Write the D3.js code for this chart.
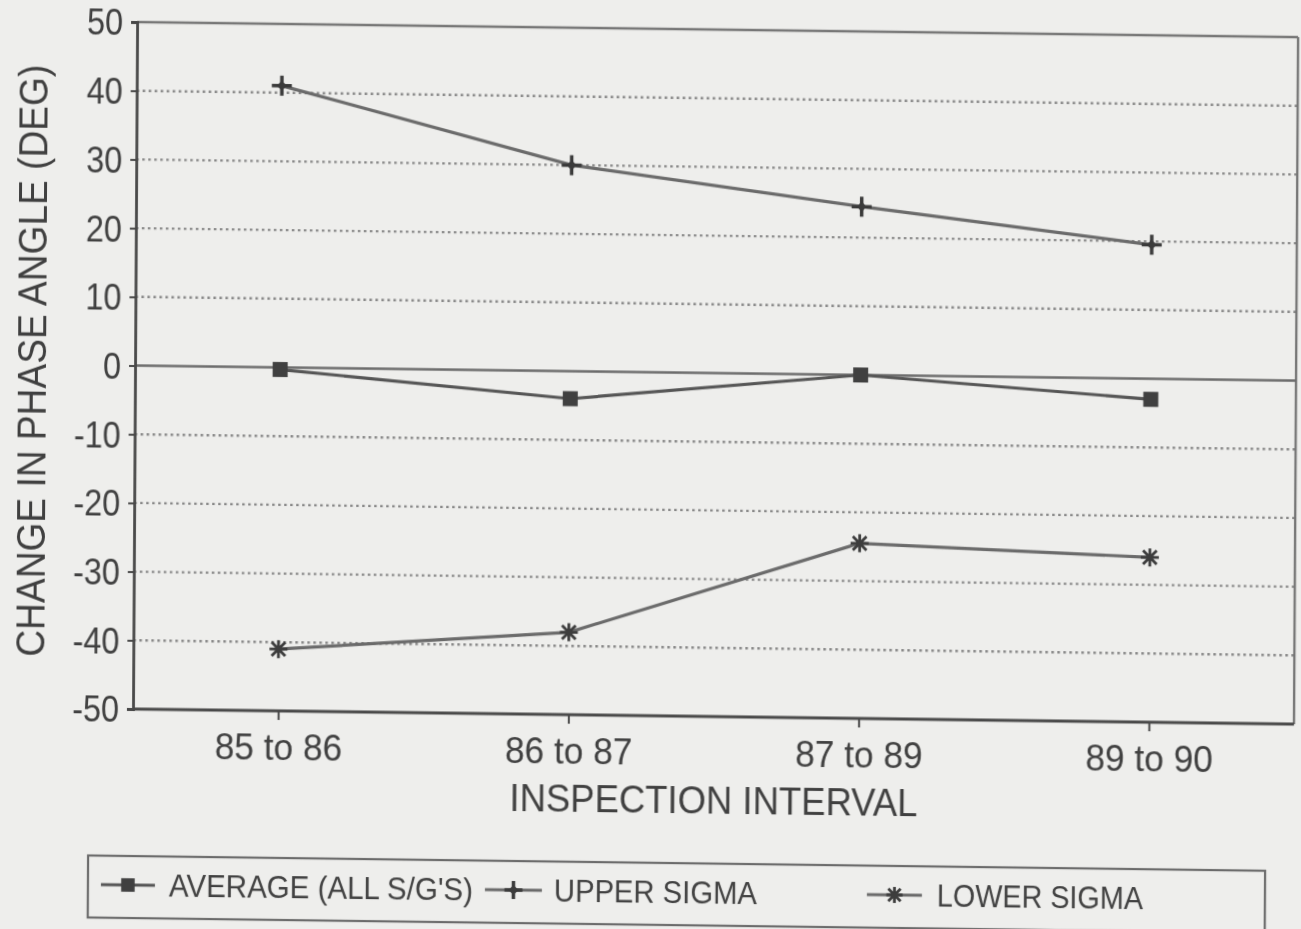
<!DOCTYPE html>
<html>
<head>
<meta charset="utf-8">
<script src="https://cdn.jsdelivr.net/npm/d3@7/dist/d3.min.js"></script>
<style>
  html, body { margin: 0; padding: 0; background: #eeeeec; }
  svg { display: block; }
  text { font-family: "Liberation Sans", Arial, Helvetica, sans-serif; fill: #404040; }
</style>
</head>
<body>
<svg id="chart" width="1301" height="929"></svg>
<script>
// Phase angle change per inspection interval
const categories = ["85 to 86", "86 to 87", "87 to 89", "89 to 90"];
const averageAll = [-0.3, -4.0, 0.0, -3.0];
const upperSigma = [41, 30, 24.5, 19.5];
const lowerSigma = [-41, -38, -24.5, -26];
const yTicks = [50, 40, 30, 20, 10, 0, -10, -20, -30, -40, -50];
const gridValues = [40, 30, 20, 10, -10, -20, -30, -40];
const legendLabels = ["AVERAGE (ALL S/G'S)", "UPPER SIGMA", "LOWER SIGMA"];

const W = 1301, H = 929;
const plot = { left: 135, right: 1296, top: 22, bottom: 709 };
const ink = "#484848";

const svg = d3.select("#chart");
svg.append("rect").attr("width", W).attr("height", H).attr("fill", "#eeeeec");

const defs = svg.append("defs");
defs.append("filter").attr("id", "soft")
  .append("feGaussianBlur").attr("stdDeviation", 0.6);

// slight page skew of the printed sheet
const a = -0.006, b = 0.013, cx = 135, cy = 365;
const root = svg.append("g")
  .attr("filter", "url(#soft)")
  .attr("transform", `matrix(1, ${b}, ${a}, 1, ${-a * cy}, ${-b * cx})`);

const x = d3.scalePoint().domain(categories).range([plot.left, plot.right]).padding(0.5);
const y = d3.scaleLinear().domain([-50, 50]).range([plot.bottom, plot.top]);

// dotted gridlines
root.append("g").selectAll("line").data(gridValues).join("line")
  .attr("x1", plot.left).attr("x2", plot.right)
  .attr("y1", d => y(d)).attr("y2", d => y(d))
  .attr("stroke", "#868686").attr("stroke-width", 2.4)
  .attr("stroke-dasharray", "2.5,3.5");

// frame: top & right lighter, zero line solid
root.append("line").attr("x1", plot.left).attr("x2", plot.right)
  .attr("y1", y(50)).attr("y2", y(50)).attr("stroke", "#767676").attr("stroke-width", 2.4);
root.append("line").attr("x1", plot.right).attr("x2", plot.right)
  .attr("y1", y(50)).attr("y2", y(-50)).attr("stroke", "#767676").attr("stroke-width", 2.4);
root.append("line").attr("x1", plot.left).attr("x2", plot.right)
  .attr("y1", y(0)).attr("y2", y(0)).attr("stroke", "#6c6c6c").attr("stroke-width", 2.4);

// y axis
const yAxis = root.append("g").attr("transform", `translate(${plot.left},0)`)
  .call(d3.axisLeft(y).tickValues(yTicks).tickSize(6).tickPadding(8).tickFormat(d => String(d)));
yAxis.select(".domain").attr("stroke", ink).attr("stroke-width", 2.8);
yAxis.selectAll(".tick line").attr("stroke", ink).attr("stroke-width", 2);
yAxis.selectAll(".tick text")
  .attr("font-size", 36).attr("fill", "#404040")
  .attr("font-family", "Liberation Sans, Arial, sans-serif")
  .attr("dy", "0.36em")
  .each(function () {
    const len = this.getComputedTextLength();
    d3.select(this).attr("textLength", len * 0.9).attr("lengthAdjust", "spacingAndGlyphs");
  });

// x axis
const xAxis = root.append("g").attr("transform", `translate(0,${plot.bottom})`)
  .call(d3.axisBottom(x).tickSize(9).tickPadding(14));
xAxis.select(".domain").attr("stroke", ink).attr("stroke-width", 2.8)
  .attr("d", `M${plot.left},0H${plot.right}`);
xAxis.selectAll(".tick line").attr("stroke", ink).attr("stroke-width", 2);
xAxis.selectAll(".tick text")
  .attr("font-size", 36).attr("fill", "#404040")
  .attr("font-family", "Liberation Sans, Arial, sans-serif")
  .attr("y", 49).attr("dy", 0)
  .each(function () {
    const len = this.getComputedTextLength();
    d3.select(this).attr("textLength", len * 0.98).attr("lengthAdjust", "spacingAndGlyphs");
  });

// axis titles
root.append("text")
  .attr("transform", "translate(46,362) rotate(-90)")
  .attr("text-anchor", "middle").attr("font-size", 41)
  .attr("textLength", 592).attr("lengthAdjust", "spacingAndGlyphs")
  .text("CHANGE IN PHASE ANGLE (DEG)");
root.append("text")
  .attr("x", 716).attr("y", 806)
  .attr("text-anchor", "middle").attr("font-size", 38)
  .attr("textLength", 408).attr("lengthAdjust", "spacingAndGlyphs")
  .text("INSPECTION INTERVAL");

// marker shapes
function squareMark(g, px, py, s) {
  g.append("rect").attr("x", px - s / 2).attr("y", py - s / 2)
    .attr("width", s).attr("height", s).attr("fill", "#404040");
}
function plusMark(g, px, py, s) {
  g.append("path")
    .attr("d", `M${px - s / 2},${py}H${px + s / 2}M${px},${py - s / 2}V${py + s / 2}`)
    .attr("stroke", "#3a3a3a").attr("stroke-width", 3.5).attr("fill", "none");
  g.append("path")
    .attr("d", `M${px - 5},${py}L${px},${py - 5}L${px + 5},${py}L${px},${py + 5}Z`)
    .attr("fill", "#3a3a3a");
}
function starMark(g, px, py, s) {
  const h = s / 2, d = s * 0.38;
  g.append("path")
    .attr("d", `M${px - d},${py - d}L${px + d},${py + d}M${px - d},${py + d}L${px + d},${py - d}M${px},${py - h}V${py + h}M${px - h},${py}H${px + h}`)
    .attr("stroke", "#3c3c3c").attr("stroke-width", 2.8).attr("fill", "none");
}

const series = [
  { values: averageAll, mark: squareMark, size: 15, color: "#555555" },
  { values: upperSigma, mark: plusMark, size: 20, color: "#6a6a6a" },
  { values: lowerSigma, mark: starMark, size: 18, color: "#6a6a6a" }
];

const line = d3.line().x((d, i) => x(categories[i])).y(d => y(d));
const marks = root.append("g");
series.forEach(s => {
  marks.append("path").datum(s.values)
    .attr("d", line).attr("fill", "none")
    .attr("stroke", s.color).attr("stroke-width", 3.2);
  s.values.forEach((v, i) => s.mark(marks, x(categories[i]), y(v), s.size));
});

// legend
const legend = root.append("g");
legend.append("rect").attr("x", 91).attr("y", 856).attr("width", 1177).attr("height", 62)
  .attr("fill", "none").attr("stroke", "#6a6a6a").attr("stroke-width", 2.2);
const legendItems = [
  { x0: 104, x1: 158, tx: 172, tl: 304 },
  { x0: 488, x1: 545, tx: 557, tl: 203 },
  { x0: 870, x1: 925, tx: 940, tl: 206 }
];
const ly = 885;
legendItems.forEach((it, i) => {
  legend.append("line").attr("x1", it.x0).attr("x2", it.x1)
    .attr("y1", ly).attr("y2", ly)
    .attr("stroke", series[i].color).attr("stroke-width", 3);
  series[i].mark(legend, (it.x0 + it.x1) / 2, ly, series[i].size * 0.9);
  legend.append("text").attr("x", it.tx).attr("y", ly + 11)
    .attr("font-size", 31)
    .attr("textLength", it.tl).attr("lengthAdjust", "spacingAndGlyphs")
    .text(legendLabels[i]);
});
</script>
</body>
</html>
